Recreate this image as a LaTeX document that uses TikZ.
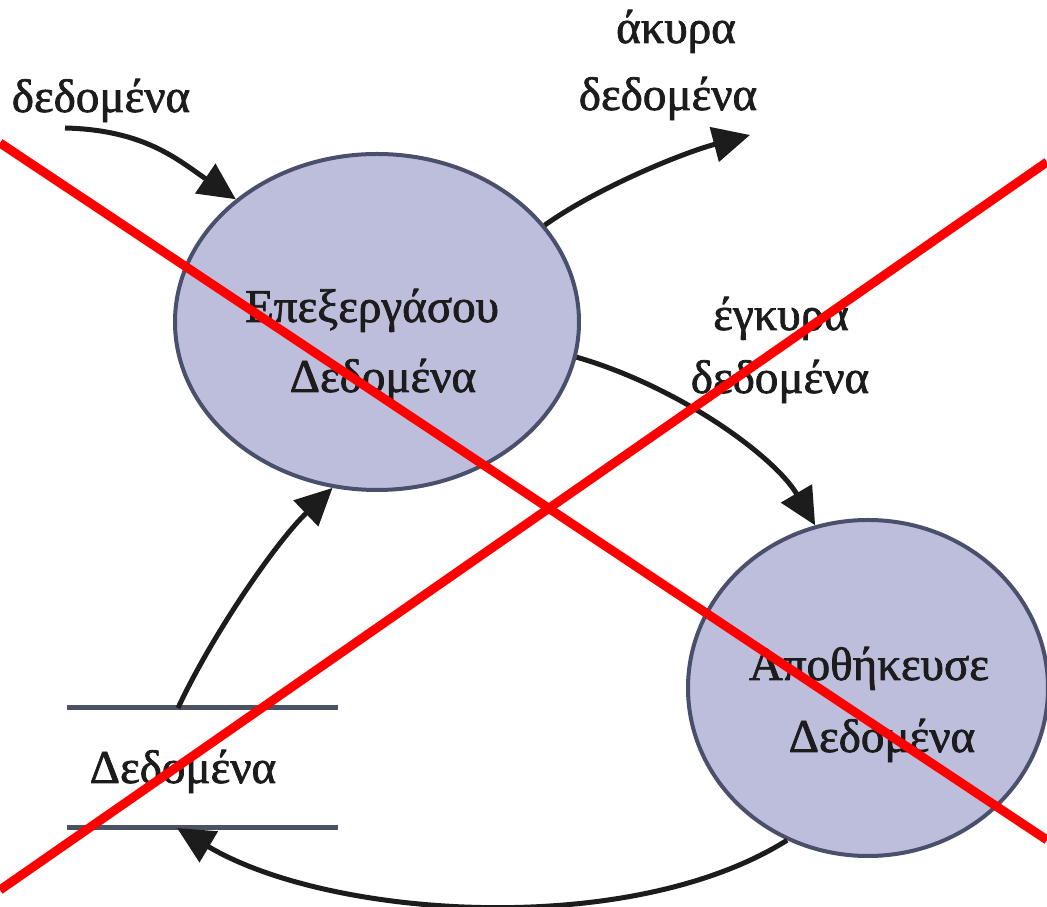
\documentclass[tikz,border=0pt]{standalone}
\usepackage{fontspec}
\setmainfont{Liberation Serif}
\newfontfamily\labelfont[FakeBold=1.6]{Liberation Serif}
\usetikzlibrary{arrows.meta,shapes.geometric}

\definecolor{bubble}{RGB}{189,190,219}
\definecolor{rim}{RGB}{74,80,108}
\definecolor{ink}{RGB}{28,28,28}
\definecolor{storeline}{RGB}{75,82,99}

\begin{document}
\begin{tikzpicture}[x=1pt,y=1pt,
  process/.style={ellipse, draw=rim, line width=4pt, fill=bubble, inner sep=0pt},
  lbl/.style={font=\labelfont\fontsize{47}{56}\selectfont, text=ink, anchor=base, inner sep=0pt},
  flow/.style={draw=ink, line width=5pt, -{Triangle[length=37pt,width=35pt]}},
  storebar/.style={draw=storeline, line width=5pt},
  cross/.style={draw=red, line width=9pt}]
\useasboundingbox (0,0) rectangle (1047,907);
\fill[white] (0,0) rectangle (1047,907);

% processes
\node[process, minimum width=404pt, minimum height=336pt] (proc) at (377,585) {};
\node[process, minimum width=360pt, minimum height=336pt] (save) at (868,219) {};

\node[lbl] (procA) at (372,585) {Επεξεργάσου};
\node[lbl] (procB) at (383,515) {Δεδομένα};
\node[lbl] (saveA) at (869,227) {Αποθήκευσε};
\node[lbl] (saveB) at (882,155) {Δεδομένα};

% data store
\coordinate (dsTL) at (67,199);
\coordinate (dsTR) at (338,199);
\coordinate (dsBL) at (67,79);
\coordinate (dsBR) at (338,79);
\draw[storebar] (dsTL) -- (dsTR);
\draw[storebar] (dsBL) -- (dsBR);
\node[lbl] (dsl) at (183,124) {Δεδομένα};
\coordinate (dsOut) at (178,199);
\coordinate (dsIn) at (177,79);

% flow labels
\node[lbl] (inlbl) at (101,795) {δεδομένα};
\node[lbl] (badA) at (676,864) {άκυρα};
\node[lbl] (badB) at (668,797) {δεδομένα};
\node[lbl] (goodA) at (781,577) {έγκυρα};
\node[lbl] (goodB) at (780,514) {δεδομένα};

% flows
\coordinate (inStart) at (65,779);
\coordinate (badEnd) at (750,772);
\draw[flow] (inStart) .. controls (145,777) and (178,747) .. (proc.139);
\draw[flow] (proc.30) .. controls (597,719) and (682,754) .. (badEnd);
\draw[flow] (proc.-10) .. controls (680,520) and (775,450) .. (save.108.5);
\draw[flow] (save.242.5) .. controls (630,-32) and (330,-12) .. (dsIn);
\draw[flow] (dsOut) .. controls (213,274) and (277,366) .. (proc.255.5);

% cross-out
\coordinate (xa1) at (0,764);
\coordinate (xa2) at (1047,67);
\coordinate (xb1) at (0,17);
\coordinate (xb2) at (1047,745);
\draw[cross] (xa1) -- (xa2);
\draw[cross] (xb1) -- (xb2);
\end{tikzpicture}
\end{document}
